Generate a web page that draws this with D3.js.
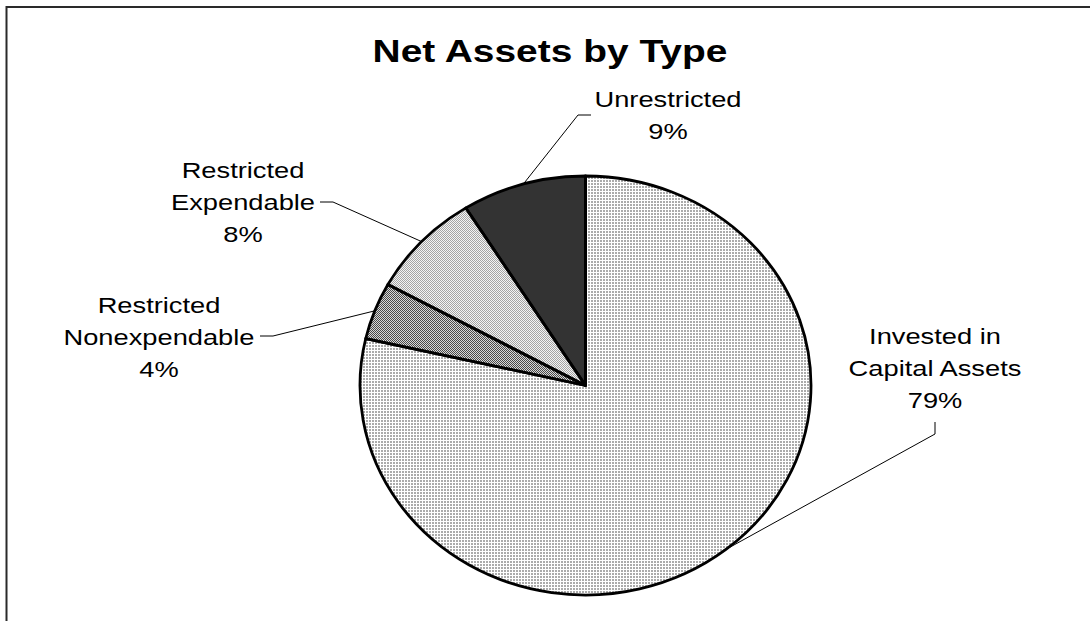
<!DOCTYPE html>
<html>
<head>
<meta charset="utf-8">
<script src="https://cdn.jsdelivr.net/npm/d3@7"></script>
<style>
  html, body { margin: 0; padding: 0; background: #fff; }
  svg { display: block; }
  text { font-family: "Liberation Sans", Arial, Helvetica, sans-serif; fill: #000; }
</style>
</head>
<body>
<svg id="chart" width="1090" height="621"></svg>
<script>
// ---- data ----
const categories = ["Invested in Capital Assets", "Restricted Nonexpendable", "Restricted Expendable", "Unrestricted"];
const labelLines = [["Invested in", "Capital Assets"], ["Restricted", "Nonexpendable"], ["Restricted", "Expendable"], ["Unrestricted"]];
const values = [78.6, 4.4, 8.1, 8.9];
const title = "Net Assets by Type";

// ---- layout / style ----
const cx = 585.5, cy = 385.5, rx = 225.5, ry = 209.5;
const ys = ry / rx;
const textScaleX = 1.24;
const lineGap = 32;
const labelLayout = [
  { x: 935, y: 344, leader: [[935, 422], [935, 434]] },
  { x: 159, y: 313, leader: [[260, 336], [273, 336]] },
  { x: 243, y: 178, leader: [[320, 202], [333, 202]] },
  { x: 668, y: 107, leader: [[591, 115], [578, 115]] }
];
const fills = ["url(#pInvested)", "url(#pNonexp)", "url(#pExp)", "#333333"];

const svg = d3.select("#chart");

// frame
svg.append("rect")
  .attr("x", 6.5).attr("y", 7).attr("width", 1200).attr("height", 800)
  .attr("fill", "none").attr("stroke", "#2a2a2a").attr("stroke-width", 2);

// patterns
const defs = svg.append("defs");
const p1 = defs.append("pattern").attr("id", "pInvested").attr("patternUnits", "userSpaceOnUse")
  .attr("width", 3).attr("height", 3);
p1.append("rect").attr("width", 3).attr("height", 3).attr("fill", "#ffffff");
p1.append("rect").attr("width", 2).attr("height", 2).attr("fill", "#ababab");

const p2 = defs.append("pattern").attr("id", "pNonexp").attr("patternUnits", "userSpaceOnUse")
  .attr("width", 2).attr("height", 2);
p2.append("rect").attr("width", 2).attr("height", 2).attr("fill", "#d8d8d8");
p2.append("rect").attr("width", 1).attr("height", 1).attr("fill", "#4a4a4a");
p2.append("rect").attr("x", 1).attr("y", 1).attr("width", 1).attr("height", 1).attr("fill", "#4a4a4a");

const p3 = defs.append("pattern").attr("id", "pExp").attr("patternUnits", "userSpaceOnUse")
  .attr("width", 2).attr("height", 2);
p3.append("rect").attr("width", 2).attr("height", 2).attr("fill", "#f4f4f4");
p3.append("rect").attr("width", 1).attr("height", 1).attr("fill", "#a4a4a4");
p3.append("rect").attr("x", 1).attr("y", 1).attr("width", 1).attr("height", 1).attr("fill", "#a4a4a4");

// title
svg.append("text")
  .attr("transform", `translate(550,62) scale(${textScaleX},1)`)
  .attr("text-anchor", "middle")
  .style("font-size", "31.4px").style("font-weight", "bold")
  .text(title);

// pie
const pie = d3.pie().sort(null).value(d => d);
const arcs = pie(values);
const arc = d3.arc().innerRadius(0).outerRadius(rx);
const pieTransform = `translate(${cx},${cy}) scale(1,${ys})`;

// fills: clip paths (elliptical) + unscaled pattern rects so textures stay crisp
arcs.forEach((d, i) => {
  defs.append("clipPath").attr("id", "clip" + i)
    .append("path").attr("transform", pieTransform).attr("d", arc(d));
});
svg.append("g").selectAll("rect.fill").data(arcs).enter().append("rect")
  .attr("class", "fill")
  .attr("x", cx - rx - 5).attr("y", cy - ry - 5)
  .attr("width", 2 * rx + 10).attr("height", 2 * ry + 10)
  .attr("clip-path", (d, i) => `url(#clip${i})`)
  .attr("fill", (d, i) => fills[i]);

// outlines
const g = svg.append("g").attr("transform", pieTransform);
g.selectAll("path.slice").data(arcs).enter().append("path")
  .attr("class", "slice")
  .attr("d", arc)
  .attr("fill", "none")
  .attr("stroke", "#000").attr("stroke-width", 2.8)
  .attr("stroke-linejoin", "round")
  .attr("vector-effect", "non-scaling-stroke");

// leader lines
const line = d3.line();
arcs.forEach((d, i) => {
  const a = (d.startAngle + d.endAngle) / 2;
  const edge = [cx + rx * Math.sin(a), cy - ry * Math.cos(a)];
  const pts = [labelLayout[i].leader[0], labelLayout[i].leader[1], edge];
  svg.append("path").attr("d", line(pts))
    .attr("fill", "none").attr("stroke", "#000").attr("stroke-width", 1);
});

// labels
arcs.forEach((d, i) => {
  const lines = labelLines[i].concat([Math.round(values[i]) + "%"]);
  const L = labelLayout[i];
  lines.forEach((t, k) => {
    svg.append("text")
      .attr("transform", `translate(${L.x},${L.y + k * lineGap}) scale(${textScaleX},1)`)
      .attr("text-anchor", "middle")
      .style("font-size", "22px")
      .text(t);
  });
});
</script>
</body>
</html>
